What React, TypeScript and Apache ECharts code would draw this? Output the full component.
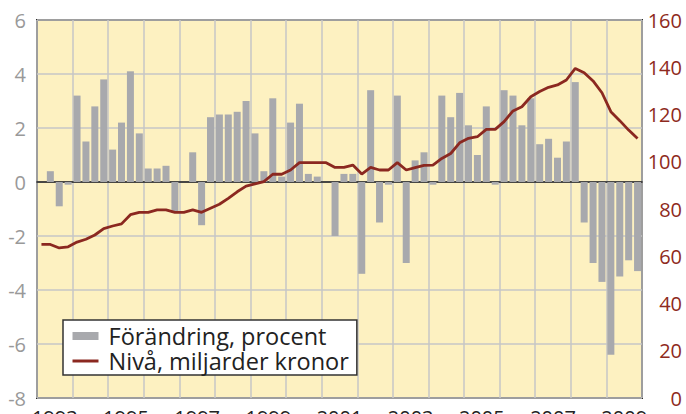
import React, { useEffect, useRef } from "react";
import * as echarts from "echarts";

const years = ["1993","1994","1995","1996","1997","1998","1999","2000","2001","2002","2003","2004","2005","2006","2007","2008","2009"];
const quarters: string[] = years.flatMap((y) => [y + "K1", y + "K2", y + "K3", y + "K4"]);

// Förändring, procent (kvartal, vänster axel)
const changePct: (number | null)[] = [
  null, 0.4, -0.9, -0.1,
  3.2, 1.5, 2.8, 3.8,
  1.2, 2.2, 4.1, 1.8,
  0.5, 0.5, 0.6, -1.1,
  0, 1.1, -1.6, 2.4,
  2.5, 2.5, 2.6, 3.0,
  1.8, 0.4, 3.1, 0.2,
  2.2, 2.9, 0.3, 0.2,
  0, -2.0, 0.3, 0.3,
  -3.4, 3.4, -1.5, -0.1,
  3.2, -3.0, 0.8, 1.1,
  -0.1, 3.2, 2.4, 3.3,
  2.1, 1.0, 2.8, -0.1,
  3.4, 3.2, 2.1, 3.1,
  1.4, 1.6, 0.9, 1.5,
  3.7, -1.5, -3.0, -3.7,
  -6.4, -3.5, -2.9, -3.3,
];

// Nivå, miljarder kronor (höger axel)
const levelBn: number[] = [
  65, 65, 63.5, 64,
  66, 67.2, 69, 71.7,
  72.8, 73.7, 77.6, 78.6,
  78.6, 79.6, 79.6, 78.6,
  78.6, 79.6, 78.6, 80.3,
  82, 84.5, 87.3, 89.7,
  90.6, 91.6, 94.7, 94.7,
  96.5, 99.6, 99.6, 99.6,
  99.6, 97.6, 97.6, 98.6,
  94.8, 97.6, 96.5, 96.5,
  99.6, 96.5, 97.5, 98.5,
  98.6, 101.4, 103.5, 108,
  109.9, 110.6, 113.7, 113.7,
  117, 121.5, 123.3, 127.5,
  129.7, 131.5, 132.5, 134.6,
  139.5, 137.7, 134.2, 129.2,
  121.2, 117.4, 113.4, 109.8,
];

const leftTicks = { min: -8, max: 6, interval: 2 };
const rightTicks = { min: 0, max: 160, interval: 20 };

const FONT = "Open Sans";

export default function App() {
  const ref = useRef<HTMLDivElement>(null);
  useEffect(() => {
    if (!ref.current) return;
    const chart = echarts.init(ref.current, null, { renderer: "svg" });
    chart.setOption({
      animation: false,
      textStyle: { fontFamily: FONT },
      grid: {
        left: 37,
        right: 44,
        top: 20,
        bottom: 16,
        containLabel: false,
        outerBoundsMode: "none",
        show: true,
        backgroundColor: "#FDF1C1",
        borderColor: "#2b2b2b",
        borderWidth: 2,
      },
      legend: {
        orient: "vertical",
        left: 63,
        top: 320,
        backgroundColor: "#ffffff",
        borderColor: "#333333",
        borderWidth: 1.5,
        borderRadius: 0,
        padding: [4, 8, 2, 8],
        itemGap: 1,
        itemWidth: 26,
        itemHeight: 8,
        textStyle: { fontSize: 23.5, lineHeight: 24, color: "#222222", fontFamily: FONT, padding: [0, 0, 0, 5] },
        data: [
          { name: "Förändring, procent", icon: "rect" },
          { name: "Nivå, miljarder kronor", itemStyle: { opacity: 0 }, lineStyle: { width: 3, color: "#8B2820" } },
        ],
      },
      xAxis: [
        {
          type: "category",
          data: quarters,
          boundaryGap: true,
          position: "bottom",
          axisLine: { show: true, onZero: true, onZeroAxisIndex: 0, lineStyle: { color: "#1a1a1a", width: 1.5 } },
          axisTick: { show: false },
          axisLabel: { show: false },
          splitLine: { show: false },
        },
        {
          type: "category",
          data: years,
          boundaryGap: true,
          position: "bottom",
          axisLine: { show: false, onZero: false },
          axisTick: { show: false },
          axisLabel: { show: true, interval: 1, fontSize: 20, color: "#222222", margin: 9, fontFamily: FONT },
          splitLine: { show: true, interval: 0, lineStyle: { color: "#c6c6c6", width: 1.5 } },
        },
      ],
      yAxis: [
        {
          type: "value",
          position: "left",
          ...leftTicks,
          axisLine: { show: false },
          axisTick: { show: false },
          axisLabel: { fontSize: 20, color: "#999999", margin: 11, fontFamily: FONT },
          splitLine: { show: true, lineStyle: { color: "#c6c6c6", width: 1.5 } },
        },
        {
          type: "value",
          position: "right",
          ...rightTicks,
          axisLine: { show: false },
          axisTick: { show: false },
          axisLabel: { fontSize: 20, color: "#8e2a20", margin: 40, align: "right", fontFamily: FONT },
          splitLine: { show: false },
        },
      ],
      series: [
        {
          name: "Förändring, procent",
          type: "bar",
          xAxisIndex: 0,
          yAxisIndex: 0,
          data: changePct,
          barWidth: 7,
          itemStyle: { color: "#A8A9AD" },
          z: 2,
        },
        {
          name: "Nivå, miljarder kronor",
          type: "line",
          xAxisIndex: 0,
          yAxisIndex: 1,
          data: levelBn,
          symbol: "none",
          showSymbol: false,
          lineStyle: { color: "#8B2820", width: 2.8 },
          itemStyle: { color: "#8B2820" },
          z: 3,
        },
      ],
    });
    return () => chart.dispose();
  }, []);
  return <div ref={ref} style={{ width: 686, height: 414, position: "absolute", left: 0, top: 0 }} />;
}
